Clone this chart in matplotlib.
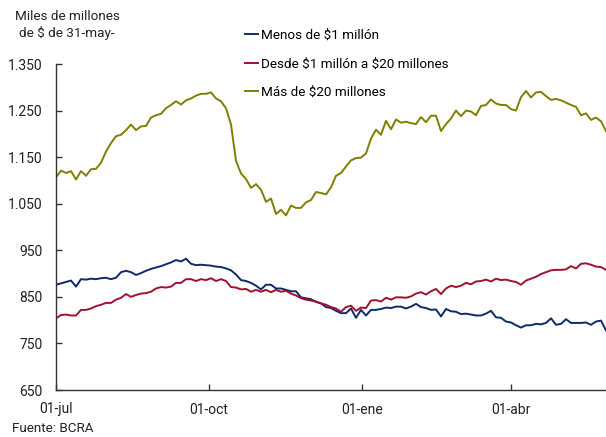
import numpy as np
import pandas as pd
import matplotlib
matplotlib.use("Agg")
import matplotlib.pyplot as plt
from matplotlib.ticker import FuncFormatter

plt.rcParams['font.family'] = ['Roboto', 'DejaVu Sans']

# depósitos por tramo, miles de millones de $ de 31-may (lectura aproximada del gráfico)
start, end = "2018-07-01", "2019-05-28"

menos_1m = [876, 879, 882, 885, 872, 888, 887, 889, 888, 890, 891, 888, 891, 903, 906, 903,
            897, 901, 906, 910, 913, 916, 920, 924, 929, 926, 932, 921, 918, 919, 918, 917,
            915, 914, 911, 907, 898, 886, 884, 880, 874, 866, 876, 876, 868, 868, 865, 862,
            862, 849, 847, 845, 839, 836, 828, 826, 820, 815, 815, 825, 805, 822, 810, 822,
            822, 824, 827, 826, 829, 829, 825, 829, 835, 828, 826, 822, 823, 808, 824, 819,
            818, 813, 814, 812, 810, 810, 814, 820, 806, 805, 797, 795, 789, 784, 789, 789,
            792, 791, 794, 804, 790, 792, 802, 794, 794, 794, 795, 790, 797, 799, 778]

de_1m_a_20m = [804, 811, 812, 810, 810, 822, 822, 825, 830, 833, 837, 837, 844, 848, 856, 850,
               854, 857, 858, 861, 868, 871, 870, 872, 880, 880, 888, 888, 884, 888, 886, 890,
               884, 888, 884, 871, 870, 866, 867, 861, 865, 861, 865, 860, 865, 861, 863, 857,
               853, 847, 844, 842, 840, 836, 833, 828, 825, 818, 828, 831, 820, 827, 826, 842,
               843, 840, 848, 844, 849, 849, 848, 851, 857, 860, 855, 862, 867, 856, 868, 874,
               871, 874, 880, 877, 883, 884, 887, 883, 889, 886, 887, 884, 882, 876, 885, 889,
               893, 899, 903, 907, 908, 908, 909, 916, 911, 921, 922, 919, 915, 914, 908]

mas_20m = [1107, 1121, 1116, 1120, 1102, 1120, 1110, 1124, 1125, 1138, 1162, 1180, 1195, 1198,
           1208, 1220, 1208, 1216, 1217, 1235, 1240, 1243, 1255, 1262, 1270, 1263, 1272, 1276,
           1282, 1286, 1286, 1289, 1276, 1270, 1255, 1220, 1142, 1115, 1103, 1084, 1092, 1080,
           1054, 1061, 1028, 1037, 1025, 1046, 1041, 1041, 1053, 1058, 1075, 1073, 1070, 1085,
           1110, 1116, 1130, 1143, 1148, 1149, 1158, 1190, 1209, 1198, 1228, 1210, 1231, 1224,
           1226, 1223, 1221, 1236, 1225, 1239, 1239, 1206, 1221, 1233, 1250, 1238, 1250, 1248,
           1240, 1260, 1262, 1274, 1265, 1262, 1262, 1253, 1250, 1279, 1292, 1278, 1289, 1290,
           1281, 1273, 1275, 1272, 1267, 1262, 1258, 1240, 1244, 1230, 1235, 1227, 1206]

labels = ["Menos de \\$1 millón", "Desde \\$1 millón a \\$20 millones", "Más de \\$20 millones"]
colors = ["#0d2b6b", "#a3102f", "#7f7f00"]

tick_dates = ["2018-07-01", "2018-10-01", "2019-01-01", "2019-04-01"]
tick_labels = ["01-jul", "01-oct", "01-ene", "01-abr"]

fechas = pd.date_range(start, end, periods=len(menos_1m))

fig = plt.figure(figsize=(6.06, 4.37), dpi=100)
ax = fig.add_axes([56 / 606, 47 / 437, 550 / 606, 326 / 437])

for serie, lab, col in zip([menos_1m, de_1m_a_20m, mas_20m], labels, colors):
    ax.plot(fechas, serie, color=col, lw=1.4, label=lab)

ax.set_xlim(pd.Timestamp(start), pd.Timestamp(end))
ax.set_ylim(650, 1350)
ax.set_yticks(np.arange(650, 1351, 100))
ax.yaxis.set_major_formatter(FuncFormatter(lambda v, p: f"{v:,.0f}".replace(",", ".")))
ax.set_xticks(pd.to_datetime(tick_dates))
ax.set_xticklabels(tick_labels)

for s in ["top", "right"]:
    ax.spines[s].set_visible(False)
for s in ["left", "bottom"]:
    ax.spines[s].set_color("#333333")
    ax.spines[s].set_linewidth(1.0)
ax.tick_params(axis="both", direction="in", length=4, width=1, color="#333333",
               labelsize=10, labelcolor="#222222")
ax.tick_params(axis="y", pad=9.5)
ax.tick_params(axis="x", pad=9)

ax.legend(loc="upper left", bbox_to_anchor=(245 / 606, 1 - 29 / 437),
          bbox_transform=fig.transFigure, frameon=False, fontsize=9.7,
          handlelength=1.0, handletextpad=0.2, labelspacing=1.15,
          borderpad=0, borderaxespad=0)

fig.text(67 / 606, 1 - 10 / 437, "Miles de millones\nde \\$ de 31-may-", ha="center", va="top",
         fontsize=9.7, color="#222222", linespacing=1.25)
fig.text(12 / 606, 1 - 428 / 437, "Fuente: BCRA", ha="left", va="center",
         fontsize=9.7, color="#222222")

fig.savefig("out.png", dpi=100)
